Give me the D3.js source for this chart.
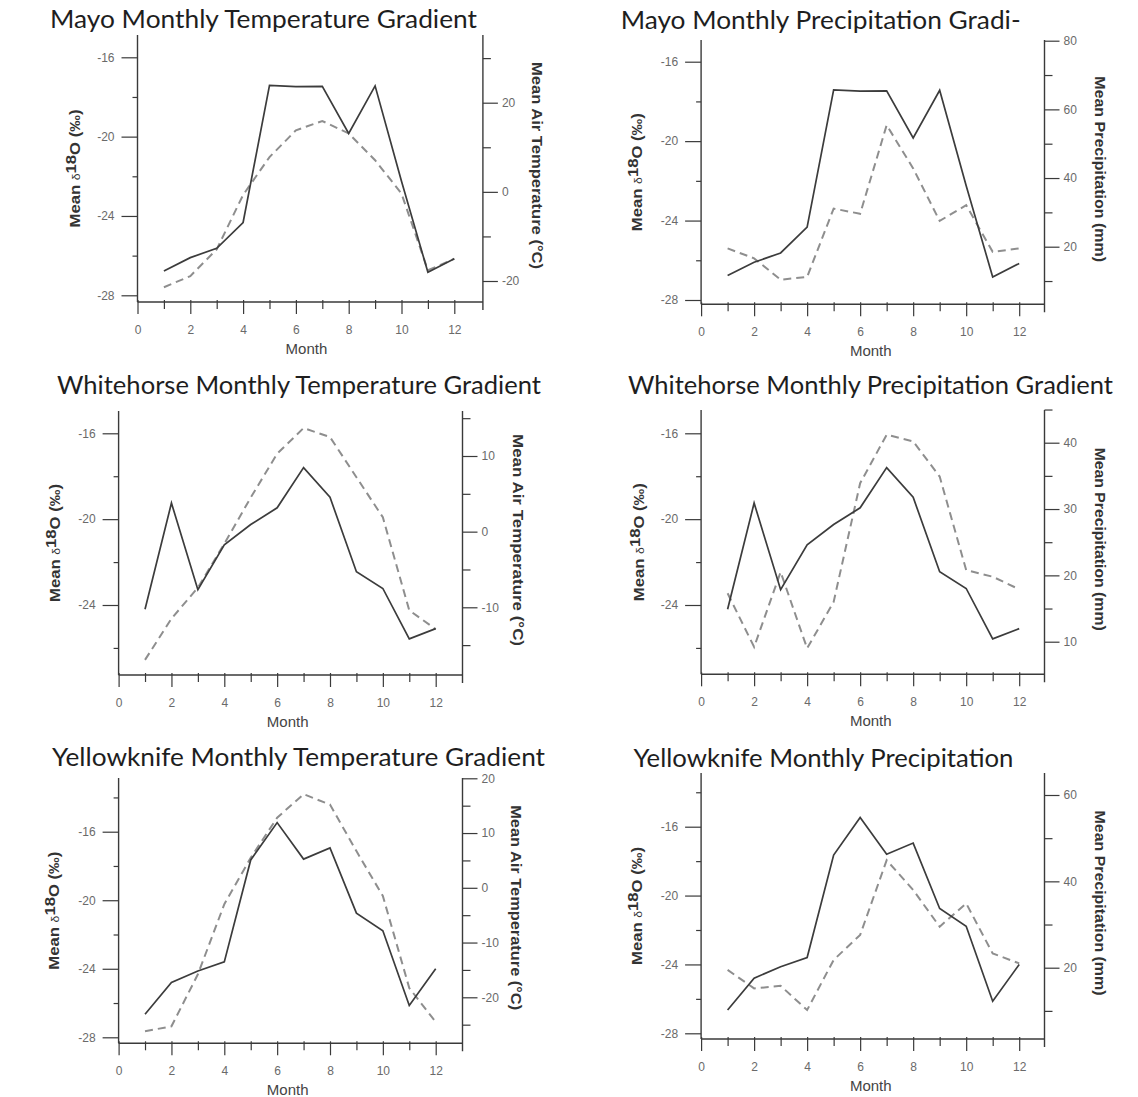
<!DOCTYPE html>
<meta charset="utf-8">
<style>
    body { margin: 0; background: #fff; }
    .title { font-family: Lato, "Open Sans", sans-serif; font-size: 25px; fill: #1e1e1e; }
    .tick text { font-family: "Liberation Sans", Arial, sans-serif; font-size: 12px; fill: #6a6a6a; }
    .tick line { stroke: #3a3a3a; stroke-width: 1.2px; }
    .axisLine { stroke: #3a3a3a; stroke-width: 1.4px; }
    .lab { font-family: "Liberation Sans", Arial, sans-serif; font-weight: bold; font-size: 15px; fill: #333; }
    .month { font-family: "Liberation Sans", Arial, sans-serif; font-size: 15px; fill: #444; }
    .solid { fill: none; stroke: #3c3c3c; stroke-width: 1.7px; }
    .dashed { fill: none; stroke: #8e8e8e; stroke-width: 2px; stroke-dasharray: 8, 5; }
</style>

<svg width="1138" height="1097"></svg>
<script src="https://d3js.org/d3.v7.min.js"></script>
<script>

    var months = [1, 2, 3, 4, 5, 6, 7, 8, 9, 10, 11, 12];

    // mean d18O per station (solid lines)
    var mayoD18O = [-26.77, -26.1, -25.63, -24.33, -17.42, -17.48, -17.47, -19.84, -17.44, -22.25, -26.84, -26.16];
    var whitehorseD18O = [-24.2, -19.25, -23.29, -21.2, -20.25, -19.47, -17.6, -18.98, -22.45, -23.23, -25.58, -25.1];
    var yellowknifeD18O = [-26.65, -24.8, -24.13, -23.6, -17.65, -15.47, -17.6, -16.95, -20.75, -21.78, -26.14, -24.0];

    // climate series (dashed lines)
    var mayoTemp = [-21.4, -18.9, -12.9, -0.7, 7.8, 13.8, 15.9, 13.1, 7.1, -0.4, -17.6, -15.0];
    var mayoPrecip = [19.5, 16.6, 10.4, 11.2, 31.1, 29.6, 55.4, 42.8, 27.5, 32.1, 18.5, 19.5];
    var whitehorseTemp = [-16.95, -11.5, -7.4, -1.6, 4.5, 10.3, 13.7, 12.5, 7.2, 1.9, -10.4, -12.9];
    var whitehorsePrecip = [17.3, 9.2, 20.5, 9.0, 16.0, 33.9, 41.2, 40.2, 34.9, 20.8, 19.8, 17.9];
    var yellowknifeTemp = [-26.2, -25.3, -15.8, -3.0, 5.5, 12.8, 17.1, 15.2, 6.7, -1.5, -18.3, -24.5];
    var yellowknifePrecip = [19.5, 15.2, 15.8, 10.2, 21.8, 27.6, 44.9, 38.0, 29.5, 34.9, 23.3, 21.0];

    var titles = ["Mayo Monthly Temperature Gradient", "Mayo Monthly Precipitation Gradi-",
        "Whitehorse Monthly Temperature Gradient", "Whitehorse Monthly Precipitation Gradient",
        "Yellowknife Monthly Temperature Gradient", "Yellowknife Monthly Precipitation"];
    var tempLabel = "Mean Air Temperature (°C)";
    var precipLabel = "Mean Precipitation (mm)";
    var xMajor = [0, 2, 4, 6, 8, 10, 12];
    var xMinor = [1, 3, 5, 7, 9, 11];

    // layout of the six panels (pixel positions only)
    var panels = [
        { iso: mayoD18O, clim: mayoTemp, title: titles[0], rLab: tempLabel,
          lMaj: [-16, -20, -24, -28], lMin: [-18, -22, -26], rMaj: [20, 0, -20], rMin: [30, 10, -10],
          x0: 137.5, x12: 454.3, xR: 482.9, yAx: 302, top: 35,
          lv: [-16, -28], ly: [57.3, 295.3], rv: [20, -20], ry: [102.7, 281],
          tx: 50, ty: 28, tw: 427, lx: 75, rx: 537, rLen: 207 },
        { iso: mayoD18O, clim: mayoPrecip, title: titles[1], rLab: precipLabel,
          lMaj: [-16, -20, -24, -28], lMin: [-18, -22, -26], rMaj: [80, 60, 40, 20], rMin: [70, 50, 30, 10],
          x0: 701.1, x12: 1019.2, xR: 1044.5, yAx: 304.3, top: 40,
          lv: [-16, -28], ly: [61.7, 300], rv: [80, 20], ry: [40.7, 246.7],
          tx: 620.7, ty: 29, tw: 400, lx: 637, rx: 1100, rLen: 186 },
        { iso: whitehorseD18O, clim: whitehorseTemp, title: titles[2], rLab: tempLabel,
          lMaj: [-16, -20, -24], lMin: [-18, -22, -26], rMaj: [10, 0, -10], rMin: [15, 5, -5, -15],
          x0: 118.6, x12: 435.7, xR: 462.5, yAx: 675, top: 411,
          lv: [-16, -24], ly: [433.3, 605], rv: [10, -10], ry: [456, 607.3],
          tx: 57, ty: 394, tw: 484, lx: 55, rx: 518, rLen: 212 },
        { iso: whitehorseD18O, clim: whitehorsePrecip, title: titles[3], rLab: precipLabel,
          lMaj: [-16, -20, -24], lMin: [-18, -22, -26], rMaj: [40, 30, 20, 10], rMin: [45, 35, 25, 15],
          x0: 701.1, x12: 1019.2, xR: 1044.5, yAx: 674.3, top: 410,
          lv: [-16, -24], ly: [433.3, 605], rv: [40, 10], ry: [442.7, 641.7],
          tx: 628, ty: 394, tw: 485, lx: 639, rx: 1100, rLen: 183 },
        { iso: yellowknifeD18O, clim: yellowknifeTemp, title: titles[4], rLab: tempLabel,
          lMaj: [-16, -20, -24, -28], lMin: [-14, -18, -22, -26], rMaj: [20, 10, 0, -10, -20], rMin: [15, 5, -5, -15, -25],
          x0: 118.6, x12: 435.7, xR: 462.5, yAx: 1043.3, top: 778,
          lv: [-16, -28], ly: [831.7, 1037.3], rv: [20, -20], ry: [778.3, 997.3],
          tx: 52, ty: 766, tw: 493, lx: 54, rx: 516, rLen: 205 },
        { iso: yellowknifeD18O, clim: yellowknifePrecip, title: titles[5], rLab: precipLabel,
          lMaj: [-16, -20, -24, -28], lMin: [-14, -18, -22, -26], rMaj: [60, 40, 20], rMin: [50, 30, 10],
          x0: 701.1, x12: 1019.2, xR: 1044.5, yAx: 1039, top: 773,
          lv: [-16, -28], ly: [826.7, 1033.3], rv: [60, 20], ry: [795, 967.7],
          tx: 633.4, ty: 767, tw: 380, lx: 637, rx: 1100, rLen: 185 }
    ];

    var svg = d3.select("svg");
    var fmt = function (d) { return String(d); };

    panels.forEach(function (p) {
        var g = svg.append("g");
        var x = d3.scaleLinear().domain([0, 12]).range([p.x0, p.x12]);
        var yL = d3.scaleLinear().domain(p.lv).range(p.ly);
        var yR = d3.scaleLinear().domain(p.rv).range(p.ry);

        g.append("text")
            .attr("class", "title")
            .attr("x", p.tx)
            .attr("y", p.ty)
            .attr("textLength", p.tw)
            .attr("lengthAdjust", "spacingAndGlyphs")
            .text(p.title);

        // x axis
        var gx = g.append("g").attr("transform", "translate(0," + p.yAx + ")");
        gx.append("g").call(d3.axisBottom(x).tickValues(xMajor).tickSize(12).tickPadding(11).tickFormat(fmt));
        gx.append("g").call(d3.axisBottom(x).tickValues(xMinor).tickSize(7).tickFormat(""));
        gx.selectAll(".tick line").attr("y1", -2);
        gx.selectAll(".domain").remove();
        gx.append("line").attr("class", "axisLine").attr("x1", p.x0).attr("x2", p.xR);

        // left axis
        var gl = g.append("g").attr("transform", "translate(" + p.x0 + ",0)");
        gl.append("g").call(d3.axisLeft(yL).tickValues(p.lMaj).tickSize(16).tickPadding(7).tickFormat(fmt));
        gl.append("g").call(d3.axisLeft(yL).tickValues(p.lMin).tickSize(5).tickFormat(""));
        gl.selectAll(".domain").remove();
        gl.append("line").attr("class", "axisLine").attr("y1", p.top).attr("y2", p.yAx);

        // right axis
        var gr = g.append("g").attr("transform", "translate(" + p.xR + ",0)");
        gr.append("g").call(d3.axisRight(yR).tickValues(p.rMaj).tickSize(15).tickPadding(4).tickFormat(fmt));
        gr.append("g").call(d3.axisRight(yR).tickValues(p.rMin).tickSize(8).tickFormat(""));
        gr.selectAll(".domain").remove();
        gr.append("line").attr("class", "axisLine").attr("y1", p.top).attr("y2", p.yAx + 8);

        // axis titles
        g.append("text")
            .attr("class", "month")
            .attr("text-anchor", "middle")
            .attr("x", x(6.4))
            .attr("y", p.yAx + 52)
            .text("Month");

        var mid = (p.top + p.yAx) / 2;
        var lt = g.append("text")
            .attr("class", "lab")
            .attr("text-anchor", "middle")
            .attr("transform", "translate(" + (p.lx + 5) + "," + mid + ") rotate(-90)")
            .attr("textLength", 118)
            .attr("lengthAdjust", "spacingAndGlyphs");
        lt.append("tspan").text("Mean ");
        lt.append("tspan").attr("font-size", "11px").attr("font-weight", "normal").text("δ");
        lt.append("tspan").attr("dy", -4).text("18");
        lt.append("tspan").attr("dy", 4).text("O (‰)");

        g.append("text")
            .attr("class", "lab")
            .attr("text-anchor", "middle")
            .attr("transform", "translate(" + (p.rx - 5) + "," + (mid - 3) + ") rotate(90)")
            .attr("textLength", p.rLen)
            .attr("lengthAdjust", "spacingAndGlyphs")
            .text(p.rLab);

        // data lines
        var lineL = d3.line()
            .x(function (d, i) { return x(months[i]); })
            .y(function (d) { return yL(d); });
        var lineR = d3.line()
            .x(function (d, i) { return x(months[i]); })
            .y(function (d) { return yR(d); });

        g.append("path").attr("class", "dashed").attr("d", lineR(p.clim));
        g.append("path").attr("class", "solid").attr("d", lineL(p.iso));
    });

</script>
